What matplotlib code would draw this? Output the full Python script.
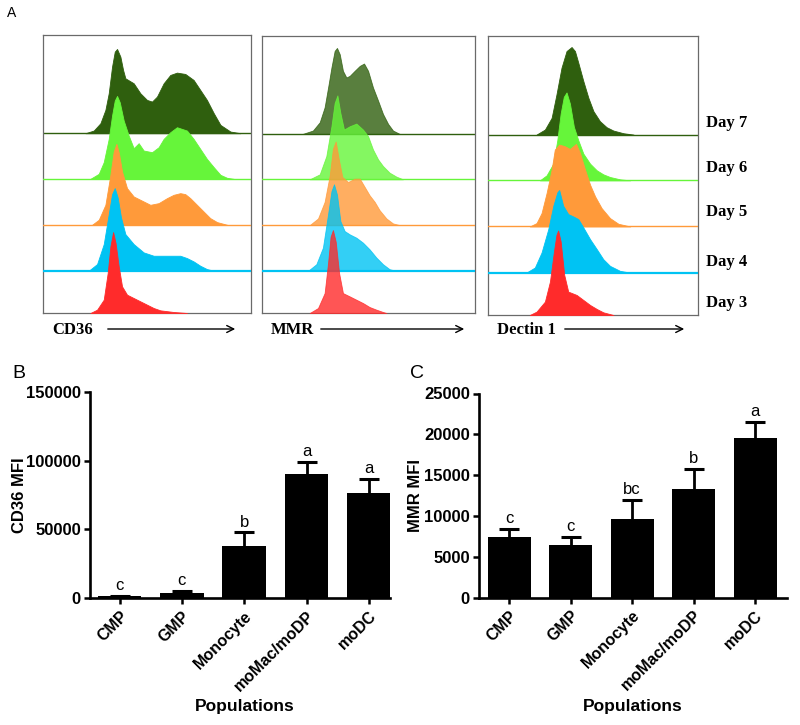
import numpy as np
import matplotlib
matplotlib.use("Agg")
import matplotlib.pyplot as plt

# ---------------- data ----------------
days = ["Day 7", "Day 6", "Day 5", "Day 4", "Day 3"]
day_colors = ["#2f5f0e", "#66f53a", "#ff9a3a", "#00c3f3", "#ff2b2b"]
markers = ["CD36", "MMR", "Dectin 1"]

# flow histograms: fluorescence channel (0-100) and event counts
cd36_d7_ch = [20.4, 24.4, 27.6, 30.0, 31.6, 33.2, 34.5, 35.6, 37.2, 38.5, 39.6, 43.6, 46.8, 50.0, 52.4, 54.8, 58.0, 61.2, 64.4, 68.4, 72.4, 75.6, 78.8, 82.1, 85.3, 90.1, 94.9]
cd36_d7_n = [0, 8, 30, 70, 120, 200, 245, 253, 230, 190, 165, 150, 120, 100, 95, 110, 150, 175, 182, 178, 160, 130, 100, 60, 25, 5, 0]
cd36_d6_ch = [22.8, 26.8, 29.2, 31.6, 33.2, 34.5, 35.6, 36.9, 38.8, 41.2, 43.6, 46.0, 48.4, 52.4, 55.6, 58.0, 61.2, 64.4, 66.8, 69.2, 72.4, 75.6, 78.8, 82.1, 85.3, 88.5, 91.7]
cd36_d6_n = [0, 15, 50, 120, 190, 235, 249, 230, 175, 130, 92, 107, 85, 80, 95, 120, 140, 155, 150, 145, 120, 90, 60, 35, 12, 3, 0]
cd36_d5_ch = [23.6, 26.8, 30.0, 32.4, 34.0, 35.3, 36.5, 38.0, 40.4, 43.6, 46.8, 51.6, 55.6, 59.6, 62.8, 66.0, 68.4, 70.8, 74.0, 77.2, 80.4, 83.7, 88.5]
cd36_d5_n = [0, 15, 60, 150, 220, 243, 215, 160, 110, 85, 75, 60, 65, 80, 90, 95, 92, 80, 60, 40, 20, 8, 0]
cd36_d4_ch = [22.0, 26.0, 29.2, 31.6, 33.2, 34.5, 35.9, 37.5, 39.6, 43.6, 48.4, 53.2, 59.6, 66.0, 69.2, 72.4, 75.6, 78.8, 82.1]
cd36_d4_n = [0, 20, 80, 170, 230, 248, 220, 160, 110, 80, 55, 45, 45, 45, 38, 28, 15, 5, 0]
cd36_d3_ch = [22.8, 26.0, 29.2, 31.1, 32.4, 33.7, 34.9, 36.4, 38.0, 40.4, 43.6, 46.8, 50.0, 53.2, 56.4, 62.8, 69.2]
cd36_d3_n = [0, 10, 40, 120, 200, 243, 210, 140, 80, 55, 45, 35, 25, 15, 8, 3, 0]

mmr_d7_ch = [19.2, 23.9, 27.1, 29.4, 31.3, 32.6, 34.1, 35.2, 36.5, 38.0, 39.6, 41.2, 43.5, 45.9, 47.9, 49.8, 52.1, 54.5, 56.8, 59.2, 61.5, 64.6]
mmr_d7_n = [0, 10, 35, 80, 150, 200, 250, 259, 240, 190, 170, 175, 190, 205, 212, 190, 140, 100, 60, 30, 10, 0]
mmr_d6_ch = [22.4, 27.1, 30.2, 32.6, 34.1, 35.4, 36.8, 38.5, 41.2, 44.3, 47.4, 49.8, 52.1, 54.5, 56.8, 59.9, 63.1, 66.2]
mmr_d6_n = [0, 15, 70, 160, 230, 253, 200, 150, 160, 168, 150, 130, 90, 60, 40, 20, 8, 0]
mmr_d5_ch = [22.4, 26.3, 29.4, 31.8, 33.3, 34.6, 36.0, 37.7, 40.4, 43.5, 45.9, 48.2, 50.5, 52.9, 55.2, 58.4, 61.5, 64.6]
mmr_d5_n = [0, 20, 70, 150, 230, 252, 200, 145, 130, 140, 140, 115, 90, 70, 45, 20, 5, 0]
mmr_d4_ch = [21.6, 25.5, 28.6, 31.0, 32.6, 33.8, 35.2, 36.8, 38.8, 41.2, 44.3, 47.4, 50.5, 53.7, 56.8, 59.9, 63.1]
mmr_d4_n = [0, 20, 70, 170, 240, 261, 230, 150, 120, 110, 100, 85, 65, 40, 20, 5, 0]
mmr_d3_ch = [22.4, 26.3, 29.4, 31.0, 32.2, 33.3, 34.6, 36.2, 38.0, 41.2, 44.3, 47.4, 50.5, 53.7, 56.8, 58.4]
mmr_d3_n = [0, 15, 60, 150, 230, 250, 215, 120, 60, 50, 40, 30, 18, 10, 3, 0]

dec_d7_ch = [23.1, 27.1, 30.3, 32.6, 35.0, 37.4, 39.8, 41.4, 43.0, 45.4, 47.8, 50.2, 53.3, 56.5, 59.7, 64.5, 69.3]
dec_d7_n = [0, 15, 50, 120, 200, 250, 262, 250, 215, 160, 110, 70, 40, 22, 12, 4, 0]
dec_d6_ch = [24.7, 27.9, 31.1, 33.0, 34.6, 36.1, 37.4, 39.0, 40.9, 43.0, 45.4, 48.6, 51.8, 54.9, 58.1, 62.9, 67.7]
dec_d6_n = [0, 15, 50, 120, 200, 250, 263, 230, 160, 120, 80, 50, 30, 18, 10, 3, 0]
dec_d5_ch = [19.9, 23.1, 25.5, 27.9, 30.3, 31.8, 33.9, 36.6, 39.0, 41.9, 43.8, 46.2, 48.6, 51.0, 54.1, 58.1, 62.1, 67.7]
dec_d5_n = [0, 10, 40, 100, 170, 230, 245, 240, 232, 247, 220, 170, 125, 90, 55, 25, 8, 0]
dec_d4_ch = [18.3, 22.3, 25.5, 28.7, 31.1, 33.0, 33.9, 35.8, 38.2, 40.6, 43.0, 45.4, 48.6, 51.8, 54.9, 58.1, 62.9, 67.7]
dec_d4_n = [0, 15, 60, 130, 200, 240, 247, 200, 175, 168, 160, 135, 100, 70, 40, 20, 5, 0]
dec_d3_ch = [19.9, 23.1, 27.1, 29.5, 31.4, 32.6, 33.4, 34.6, 36.3, 38.2, 42.2, 45.4, 48.6, 51.8, 54.9, 59.7]
dec_d3_n = [0, 10, 40, 100, 190, 240, 253, 220, 120, 70, 60, 45, 30, 18, 8, 0]

populations = ["CMP", "GMP", "Monocyte", "moMac/moDP", "moDC"]
cd36_mfi = [1500, 3800, 37700, 90000, 76600]
cd36_err = [300, 1300, 10000, 9200, 10300]
cd36_letters = ["c", "c", "b", "a", "a"]
mmr_mfi = [7450, 6400, 9650, 13250, 19550]
mmr_err = [980, 1020, 2250, 2500, 1920]
mmr_letters = ["c", "c", "bc", "b", "a"]

# ---------------- figure ----------------
W, H = 800, 725
fig = plt.figure(figsize=(8, 7.25), dpi=100)
SANS = "Liberation Sans"
SERIF = "Liberation Serif"


def fx(px):
    return px / W


def fy(py):
    return 1 - py / H


def rect(x0, y0, x1, y1):
    return [fx(x0), fy(y1), fx(x1) - fx(x0), fy(y0) - fy(y1)]


hist_data = [
    [(cd36_d7_ch, cd36_d7_n), (cd36_d6_ch, cd36_d6_n), (cd36_d5_ch, cd36_d5_n),
     (cd36_d4_ch, cd36_d4_n), (cd36_d3_ch, cd36_d3_n)],
    [(mmr_d7_ch, mmr_d7_n), (mmr_d6_ch, mmr_d6_n), (mmr_d5_ch, mmr_d5_n),
     (mmr_d4_ch, mmr_d4_n), (mmr_d3_ch, mmr_d3_n)],
    [(dec_d7_ch, dec_d7_n), (dec_d6_ch, dec_d6_n), (dec_d5_ch, dec_d5_n),
     (dec_d4_ch, dec_d4_n), (dec_d3_ch, dec_d3_n)],
]
box_px = [(43, 35, 251, 313), (262, 36, 475, 313), (488, 36, 698, 315)]
row_offsets = [540, 403, 265, 127, 0]
alphas = [1.0, 0.8, 1.0]
label_px = [(52, 105, 238), (271, 318, 467), (497, 562, 687)]

for m, (bx, data, alpha, lp) in enumerate(zip(box_px, hist_data, alphas, label_px)):
    ax = fig.add_axes(rect(*bx))
    ax.set_xlim(0, 100)
    ax.set_ylim(0, 835)
    for k, ((ch, n), col, off) in enumerate(zip(data, day_colors, row_offsets)):
        z = 2 + k
        if off > 0:
            ax.axhline(off, color=col, lw=1.6 if k == 3 else 1.0, zorder=z)
        base = np.full(len(ch), off, dtype=float)
        ax.fill_between(ch, base, np.array(n, dtype=float) + off, color=col,
                        alpha=alpha, lw=0.6, edgecolor=col, zorder=z)
    ax.set_xticks([])
    ax.set_yticks([])
    for s in ax.spines.values():
        s.set_color("#6a6a6a")
        s.set_linewidth(0.9)
    # axis label + arrow
    fig.text(fx(lp[0]), fy(330), markers[m], family=SERIF, fontweight="bold",
             fontsize=12, ha="left", va="center")
    fig.add_artist(matplotlib.patches.FancyArrowPatch(
        (fx(lp[1]), fy(329)), (fx(lp[2]), fy(329)), transform=fig.transFigure,
        arrowstyle="->,head_length=5,head_width=2.5", color="black", lw=1.0))

day_label_y = [123, 168, 212, 262, 303]
for d, yy in zip(days, day_label_y):
    fig.text(fx(706), fy(yy), d, family=SERIF, fontweight="bold", fontsize=12,
             ha="left", va="center")

fig.text(fx(7), fy(13), "A", family=SANS, fontsize=10, ha="left", va="center")
fig.text(fx(12), fy(373), "B", family=SANS, fontsize=14, ha="left", va="center")
fig.text(fx(410), fy(374), "C", family=SANS, fontsize=14, ha="left", va="center")


def bar_panel(axrect, vals, errs, letters, ymax, ystep, xlim, ylabel, ylab_x, popx):
    ax = fig.add_axes(axrect)
    x = np.arange(len(populations))
    vals = np.asarray(vals, dtype=float)
    errs = np.asarray(errs, dtype=float)
    ax.bar(x, vals, width=0.7, color="black", zorder=2)
    ax.vlines(x, vals, vals + errs, color="black", lw=2.0, zorder=3)
    ax.plot(x, vals + errs, ls="none", marker="_", markersize=15,
            markeredgewidth=2.2, color="black", zorder=3)
    for xi, v, e, lt in zip(x, vals, errs, letters):
        ax.annotate(lt, (xi, v + e), xytext=(0, 7.5), textcoords="offset points",
                    ha="center", va="center", fontsize=12, family=SANS)
    ax.set_xlim(*xlim)
    ax.set_ylim(0, ymax)
    ax.set_yticks(np.arange(0, ymax + 1, ystep))
    ax.set_xticks(x)
    ax.set_xticklabels(populations, rotation=45, ha="right", va="top",
                       rotation_mode="anchor", fontsize=11.5, fontweight="bold",
                       family=SANS)
    for lab in ax.get_yticklabels():
        lab.set_fontweight("bold")
        lab.set_family(SANS)
        lab.set_fontsize(12)
    ax.tick_params(axis="both", direction="out", length=4.5, width=1.8, pad=2)
    ax.tick_params(axis="x", pad=3)
    for s in ["top", "right"]:
        ax.spines[s].set_visible(False)
    for s in ["left", "bottom"]:
        ax.spines[s].set_linewidth(1.9)
    ax.set_facecolor("none")
    fig.text(fx(ylab_x), (axrect[1] + axrect[1] + axrect[3]) / 2, ylabel,
             rotation=90, family=SANS, fontweight="bold", fontsize=12,
             ha="center", va="center")
    fig.text(fx(popx), fy(707), "Populations", family=SANS, fontweight="bold",
             fontsize=12.5, ha="center", va="center")
    return ax


bar_panel(rect(90, 392, 390, 598), cd36_mfi, cd36_err, cd36_letters, 150000, 50000,
          (-0.475, 4.34), "CD36 MFI", 20, 245)
bar_panel(rect(479, 393.5, 787, 597.5), mmr_mfi, mmr_err, mmr_letters, 25000, 5000,
          (-0.49, 4.52), "MMR MFI", 415, 633)

fig.savefig("out.png", dpi=100)
